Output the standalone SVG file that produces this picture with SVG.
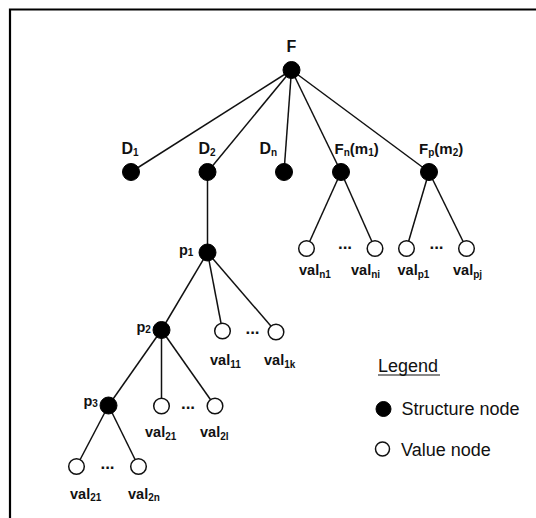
<svg xmlns="http://www.w3.org/2000/svg" width="536" height="518" viewBox="0 0 536 518">
<style>
.edge{stroke:#111;stroke-width:1.5;fill:none}
.s{fill:#000;stroke:#000;stroke-width:1}
.v{fill:#fff;stroke:#111;stroke-width:1.5}
.lb{font-family:"Liberation Sans",Arial,sans-serif;font-weight:bold;fill:#111}
.big{font-size:16px}
.mid{font-size:15px}
.val{font-size:14.5px}
.sub{font-size:10px}
.dots{font-family:"Liberation Sans",Arial,sans-serif;font-weight:bold;font-size:17px;fill:#111}
.leg{font-family:"Liberation Sans",Arial,sans-serif;font-size:18px;fill:#111}
</style>
<rect width="536" height="518" fill="#fff"/>
<path d="M10,520 V9.5 H540" fill="none" stroke="#000" stroke-width="2.2"/>
<g id="connectors">
<line class="edge" x1="291.5" y1="70" x2="131" y2="172"/>
<line class="edge" x1="291.5" y1="70" x2="207.5" y2="172"/>
<line class="edge" x1="291.5" y1="70" x2="284" y2="172"/>
<line class="edge" x1="291.5" y1="70" x2="341" y2="172"/>
<line class="edge" x1="291.5" y1="70" x2="429" y2="172"/>
<line class="edge" x1="341" y1="172" x2="306.5" y2="248.5"/>
<line class="edge" x1="341" y1="172" x2="375" y2="248.5"/>
<line class="edge" x1="429" y1="172" x2="406.5" y2="248.5"/>
<line class="edge" x1="429" y1="172" x2="466.5" y2="248.5"/>
<line class="edge" x1="207.5" y1="172" x2="207.5" y2="252.5"/>
<line class="edge" x1="207.5" y1="252.5" x2="161.5" y2="330"/>
<line class="edge" x1="207.5" y1="252.5" x2="222.5" y2="331"/>
<line class="edge" x1="207.5" y1="252.5" x2="276" y2="332"/>
<line class="edge" x1="161.5" y1="330" x2="108.5" y2="405.5"/>
<line class="edge" x1="161.5" y1="330" x2="161.5" y2="406"/>
<line class="edge" x1="161.5" y1="330" x2="215" y2="406"/>
<line class="edge" x1="108.5" y1="405.5" x2="76.5" y2="466.5"/>
<line class="edge" x1="108.5" y1="405.5" x2="138.5" y2="466.5"/>
</g>
<g id="node-F"><circle class="s" cx="291.5" cy="70" r="8.5"/><text class="lb big" x="291.5" y="52" text-anchor="middle">F</text></g>
<g id="node-D1"><circle class="s" cx="131" cy="172" r="8.5"/><text class="lb big" x="121.5" y="153.5">D<tspan class="sub" dy="2.5">1</tspan></text></g>
<g id="node-D2"><circle class="s" cx="207.5" cy="172" r="8.5"/><text class="lb big" x="198.5" y="153.5">D<tspan class="sub" dy="2.5">2</tspan></text></g>
<g id="node-Dn"><circle class="s" cx="284" cy="172" r="8.5"/><text class="lb big" x="259.5" y="153.5">D<tspan class="sub" dy="2.5">n</tspan></text></g>
<g id="node-Fn"><circle class="s" cx="341" cy="172" r="8.5"/><text class="lb mid" x="334.5" y="153.5">F<tspan class="sub" dy="2.5">n</tspan><tspan dy="-2.5">(m</tspan><tspan class="sub" dy="2.5">1</tspan><tspan dy="-2.5">)</tspan></text></g>
<g id="node-Fp"><circle class="s" cx="429" cy="172" r="8.5"/><text class="lb mid" x="419" y="153.5">F<tspan class="sub" dy="2.5">p</tspan><tspan dy="-2.5">(m</tspan><tspan class="sub" dy="2.5">2</tspan><tspan dy="-2.5">)</tspan></text></g>
<g id="node-valn1"><circle class="v" cx="306.5" cy="248.5" r="7.8"/><text class="lb val" x="299" y="275">val<tspan class="sub" dy="2.5">n1</tspan></text></g>
<g id="node-valni"><circle class="v" cx="375" cy="248.5" r="7.8"/><text class="lb val" x="351" y="275">val<tspan class="sub" dy="2.5">ni</tspan></text></g>
<g id="node-valp1"><circle class="v" cx="406.5" cy="248.5" r="7.8"/><text class="lb val" x="397.5" y="275">val<tspan class="sub" dy="2.5">p1</tspan></text></g>
<g id="node-valpj"><circle class="v" cx="466.5" cy="248.5" r="7.8"/><text class="lb val" x="453" y="275">val<tspan class="sub" dy="2.5">pj</tspan></text></g>
<g id="node-p1"><circle class="s" cx="207.5" cy="252.5" r="8.5"/><text class="lb val" x="179" y="255">p<tspan class="sub" dy="1">1</tspan></text></g>
<g id="node-val11"><circle class="v" cx="222.5" cy="331" r="7.8"/><text class="lb val" x="210" y="365">val<tspan class="sub" dy="2.5">11</tspan></text></g>
<g id="node-val1k"><circle class="v" cx="276" cy="332" r="7.8"/><text class="lb val" x="264" y="365">val<tspan class="sub" dy="2.5">1k</tspan></text></g>
<g id="node-p2"><circle class="s" cx="161.5" cy="330" r="8.5"/><text class="lb val" x="136.5" y="332">p<tspan class="sub" dy="1">2</tspan></text></g>
<g id="node-val21a"><circle class="v" cx="161.5" cy="406" r="7.8"/><text class="lb val" x="145" y="437">val<tspan class="sub" dy="2.5">21</tspan></text></g>
<g id="node-val2l"><circle class="v" cx="215" cy="406" r="7.8"/><text class="lb val" x="200" y="437">val<tspan class="sub" dy="2.5">2l</tspan></text></g>
<g id="node-p3"><circle class="s" cx="108.5" cy="405.5" r="8.5"/><text class="lb val" x="83.5" y="406">p<tspan class="sub" dy="1">3</tspan></text></g>
<g id="node-val21b"><circle class="v" cx="76.5" cy="466.5" r="7.8"/><text class="lb val" x="70" y="498.5">val<tspan class="sub" dy="2.5">21</tspan></text></g>
<g id="node-val2n"><circle class="v" cx="138.5" cy="466.5" r="7.8"/><text class="lb val" x="128" y="498.5">val<tspan class="sub" dy="2.5">2n</tspan></text></g>
<g id="dots">
<text class="dots" x="345" y="249" text-anchor="middle">...</text>
<text class="dots" x="436.5" y="249" text-anchor="middle">...</text>
<text class="dots" x="252.5" y="333.5" text-anchor="middle">...</text>
<text class="dots" x="188" y="408.5" text-anchor="middle">...</text>
<text class="dots" x="107.5" y="469" text-anchor="middle">...</text>
</g>
<g id="legend">
<text class="leg" x="378" y="371.5">Legend</text>
<line x1="378" y1="375" x2="440" y2="375" stroke="#111" stroke-width="1.2"/>
<circle class="s" cx="383.5" cy="409" r="7.5"/>
<text class="leg" x="401.5" y="415">Structure node</text>
<circle class="v" cx="382.5" cy="449" r="7"/>
<text class="leg" x="401" y="456">Value node</text>
</g>
</svg>
